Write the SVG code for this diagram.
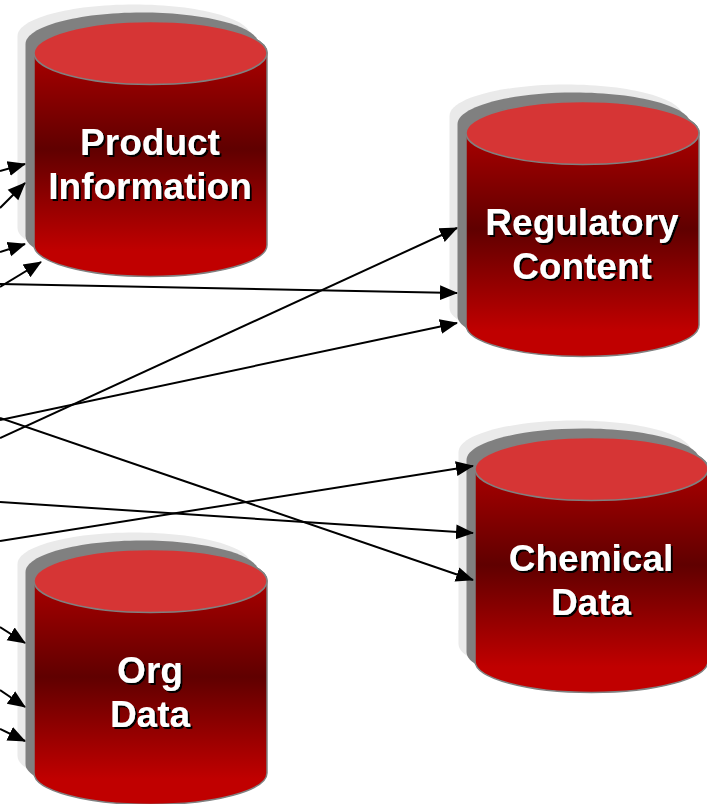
<svg xmlns="http://www.w3.org/2000/svg" width="707" height="804" viewBox="0 0 707 804">
<style>
.lbl{font-family:"Liberation Sans",Arial,sans-serif;font-weight:700;font-size:37px;text-anchor:middle;fill:#fff;filter:url(#tsh)}
.con{fill:none;stroke:#000;stroke-width:2;marker-end:url(#arr)}
</style>
<defs>
<filter id="tsh" x="-10%" y="-20%" width="120%" height="140%"><feDropShadow dx="2" dy="2" stdDeviation="0.3" flood-color="#000" flood-opacity="1"/></filter>
<linearGradient id="body" x1="0" y1="0" x2="0" y2="1">
<stop offset="0" stop-color="#c00000"/><stop offset="0.5" stop-color="#600000"/><stop offset="0.9" stop-color="#c00000"/><stop offset="1" stop-color="#c00000"/>
</linearGradient>
<marker id="arr" markerUnits="userSpaceOnUse" markerWidth="20" markerHeight="18" refX="17" refY="8.500" orient="auto"><path d="M0 1L18 8.500L0 16z" fill="#000"/></marker>
<path id="cylShape" d="M34 53C34 35.600 86 21.500 150.500 21.500C215 21.500 267 35.600 267 53V245C267 262.400 215 276.500 150.500 276.500C86 276.500 34 262.400 34 245Z"/>
<g id="cyl">
<use href="#cylShape" x="-16.500" y="-17" fill="#eaeaea"/>
<use href="#cylShape" x="-8.500" y="-9" fill="#808080"/>
<use href="#cylShape" fill="url(#body)" stroke="#808080" stroke-width="1.500"/>
<ellipse cx="150.500" cy="53" rx="116.500" ry="31.500" fill="#d63535" stroke="#808080" stroke-width="1.500"/>
</g>
</defs>
<g id="node-product"><use href="#cyl"/>
<text class="lbl" x="150" y="155">Product</text>
<text class="lbl" x="150" y="199">Information</text></g>
<g id="node-regulatory"><use href="#cyl" x="432" y="80"/>
<text class="lbl" x="582" y="235">Regulatory</text>
<text class="lbl" x="582" y="279">Content</text></g>
<g id="node-chemical"><use href="#cyl" x="441" y="416"/>
<text class="lbl" x="591" y="571">Chemical</text>
<text class="lbl" x="591" y="615">Data</text></g>
<g id="node-org"><use href="#cyl" y="528"/>
<text class="lbl" x="150" y="683">Org</text>
<text class="lbl" x="150" y="727">Data</text></g>
<g id="connectors">
<line class="con" x1="0" y1="171" x2="25" y2="164"/>
<line class="con" x1="0" y1="208" x2="25" y2="183"/>
<line class="con" x1="0" y1="252" x2="25" y2="244"/>
<line class="con" x1="0" y1="287" x2="41" y2="262"/>
<line class="con" x1="0" y1="284" x2="457" y2="293"/>
<line class="con" x1="0" y1="438" x2="457" y2="228"/>
<line class="con" x1="0" y1="420" x2="457" y2="323"/>
<line class="con" x1="0" y1="418" x2="473" y2="580"/>
<line class="con" x1="0" y1="502" x2="473" y2="533"/>
<line class="con" x1="0" y1="541" x2="473" y2="466"/>
<line class="con" x1="0" y1="627" x2="25" y2="643"/>
<line class="con" x1="0" y1="690" x2="25" y2="707"/>
<line class="con" x1="0" y1="729" x2="25" y2="741"/>
</g>
</svg>
